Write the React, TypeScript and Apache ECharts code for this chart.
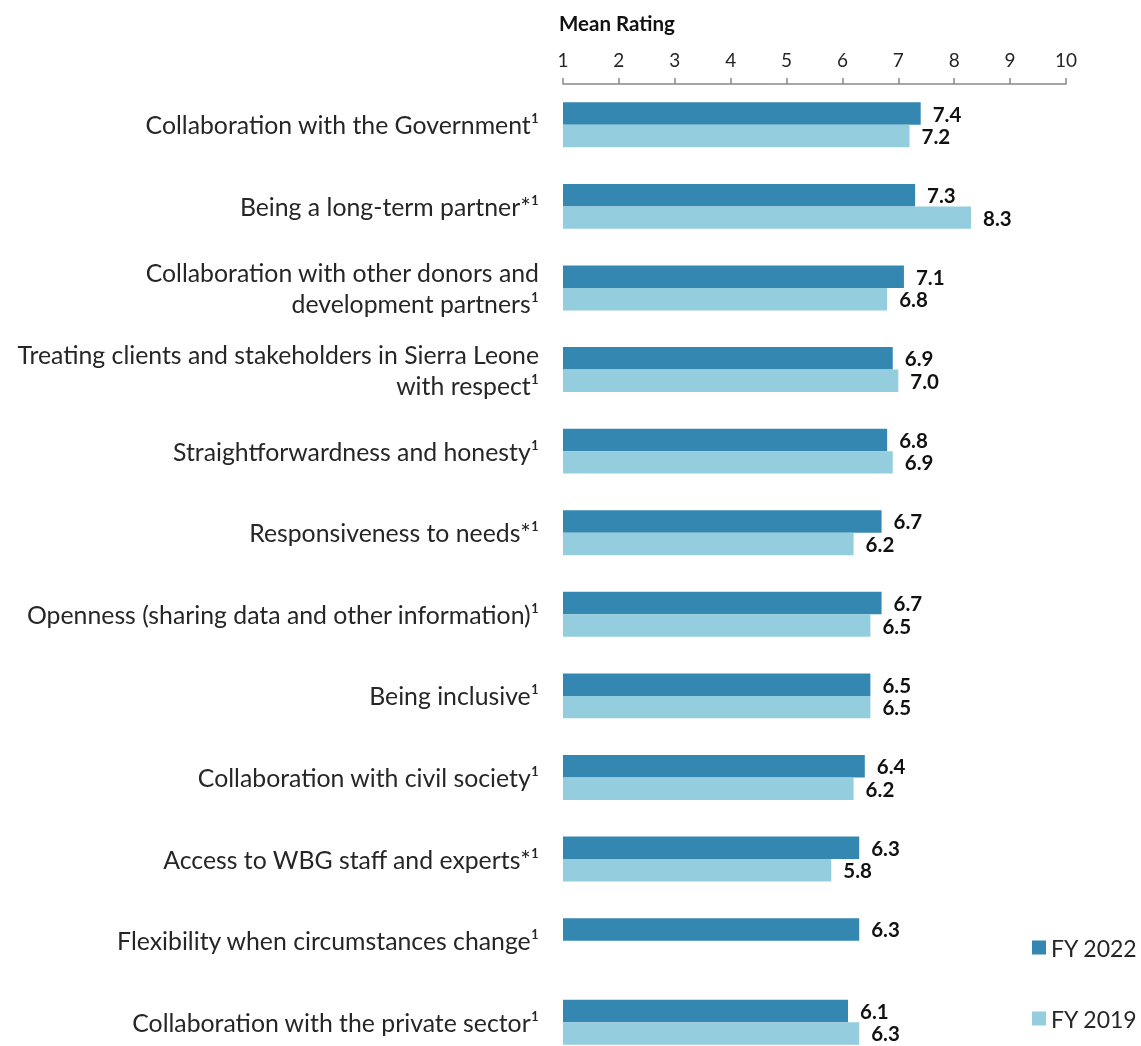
import React, { useEffect, useRef } from "react";
import * as echarts from "echarts";

const categories = [
  "Collaboration with the Government¹",
  "Being a long-term partner*¹",
  "Collaboration with other donors and\ndevelopment partners¹",
  "Treating clients and stakeholders in Sierra Leone\nwith respect¹",
  "Straightforwardness and honesty¹",
  "Responsiveness to needs*¹",
  "Openness (sharing data and other information)¹",
  "Being inclusive¹",
  "Collaboration with civil society¹",
  "Access to WBG staff and experts*¹",
  "Flexibility when circumstances change¹",
  "Collaboration with the private sector¹",
];
const fy2022 = [7.4, 7.3, 7.1, 6.9, 6.8, 6.7, 6.7, 6.5, 6.4, 6.3, 6.3, 6.1];
const fy2019 = [7.2, 8.3, 6.8, 7.0, 6.9, 6.2, 6.5, 6.5, 6.2, 5.8, null, 6.3];
const seriesNames = ["FY 2022", "FY 2019"];
const colors = ["#3387B1", "#93CDDE"];
const FONT = "Lato, 'Open Sans', sans-serif";

export default function App() {
  const ref = useRef<HTMLDivElement>(null);
  useEffect(() => {
    if (!ref.current) return;
    const chart = echarts.init(ref.current, null, { renderer: "svg" });
    const label = {
      show: true,
      position: "right" as const,
      distance: 12,
      fontFamily: FONT,
      fontWeight: "bold" as const,
      fontSize: 20.5,
      lineHeight: 20,
      color: "#111",
      formatter: (p: any) => (p.value == null ? "" : Number(p.value).toFixed(1)),
    };
    chart.setOption({
      animation: false,
      textStyle: { fontFamily: FONT },
      title: {
        text: "Mean Rating",
        left: 554,
        top: 7,
        textStyle: { fontFamily: FONT, fontWeight: "bold", fontSize: 20.5, color: "#111" },
      },
      legend: {
        orient: "vertical",
        left: 1027,
        top: 931,
        itemWidth: 14,
        itemHeight: 14,
        itemGap: 48,
        icon: "rect",
        data: seriesNames,
        textStyle: { fontFamily: FONT, fontSize: 23, color: "#262626" },
      },
      grid: { left: 563, right: 75, top: 84, height: 979, containLabel: false },
      xAxis: {
        type: "value",
        position: "top",
        min: 1,
        max: 10,
        interval: 1,
        axisLine: { show: true, lineStyle: { color: "#888", width: 1.5 } },
        axisTick: { show: true, length: 6, lineStyle: { color: "#888", width: 1.5 } },
        axisLabel: { fontFamily: FONT, fontSize: 19, color: "#262626", margin: 15 },
        splitLine: { show: false },
      },
      yAxis: {
        type: "category",
        inverse: true,
        data: categories,
        axisLine: { show: false },
        axisTick: { show: false },
        axisLabel: {
          fontFamily: FONT,
          fontSize: 24.8,
          color: "#262626",
          margin: 24,
          lineHeight: 31,
          align: "right",
        },
      },
      series: [
        {
          name: seriesNames[0],
          type: "bar",
          data: fy2022,
          itemStyle: { color: colors[0] },
          barGap: "0%",
          barCategoryGap: "45%",
          label,
        },
        {
          name: seriesNames[1],
          type: "bar",
          data: fy2019,
          itemStyle: { color: colors[1] },
          barGap: "0%",
          barCategoryGap: "45%",
          label,
        },
      ],
    });
    return () => chart.dispose();
  }, []);
  return (
    <div
      ref={ref}
      style={{ position: "fixed", left: 0, top: 0, width: 1141, height: 1080 }}
    />
  );
}
